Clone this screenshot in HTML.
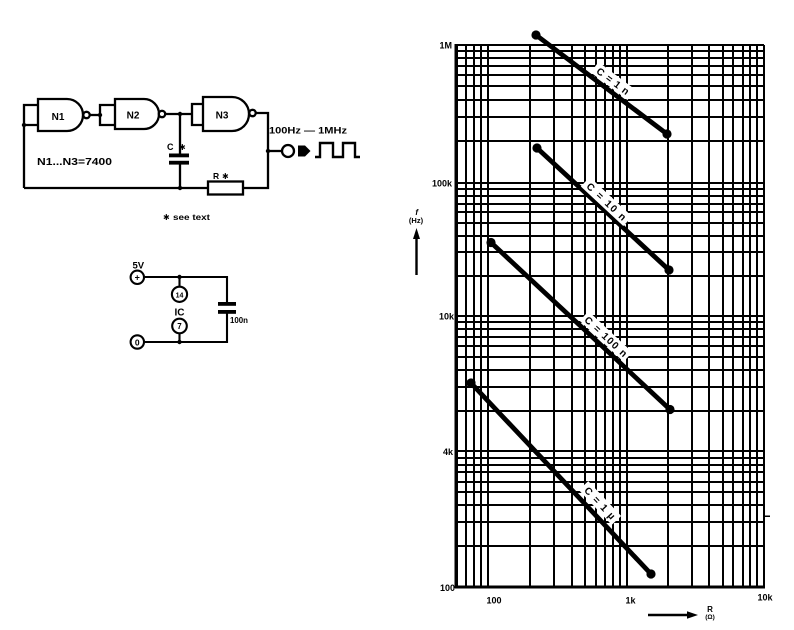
<!DOCTYPE html>
<html>
<head>
<meta charset="utf-8">
<style>
html,body{margin:0;padding:0;background:#fff;}
svg{display:block;}
text{font-family:"Liberation Sans",Arial,sans-serif;font-weight:bold;fill:#000;}
.sym{font-family:"DejaVu Sans","Liberation Sans",sans-serif;}
</style>
</head>
<body>
<svg width="794" height="630" viewBox="0 0 794 630" xmlns="http://www.w3.org/2000/svg">
<rect width="794" height="630" fill="#fff"/>

<!-- ================= CIRCUIT ================= -->
<g fill="none" stroke="#000" stroke-width="2.3" stroke-linejoin="miter">
  <!-- N1 -->
  <path d="M38 99 H67 A16 16 0 0 1 67 131 H38 Z" fill="#fff"/>
  <circle cx="86.5" cy="115" r="3.2" fill="#fff"/>
  <path d="M38 105 H24 V188 M24 125 H38"/>
  <!-- wire N1->N2 -->
  <path d="M89.7 115 H100"/>
  <path d="M115 105 H100 V125 H115"/>
  <!-- N2 -->
  <path d="M115 99 H144 A15 15 0 0 1 144 129 H115 Z" fill="#fff"/>
  <circle cx="162" cy="114" r="3.2" fill="#fff"/>
  <path d="M165.2 114 H192"/>
  <path d="M203 104 H192 V125 H203"/>
  <!-- N3 -->
  <path d="M203 97 H232 A17 17 0 0 1 232 131 H203 Z" fill="#fff"/>
  <circle cx="252.5" cy="113" r="3.2" fill="#fff"/>
  <!-- output / feedback -->
  <path d="M255.7 113 H268 V188 H243"/>
  <rect x="208" y="181.5" width="35" height="13" fill="#fff"/>
  <path d="M208 188 H24"/>
  <!-- capacitor -->
  <path d="M180 114 V154 M180 164 V188"/>
  <path d="M268 151 H282"/>
  <circle cx="288" cy="151" r="6" fill="#fff"/>
  <!-- square wave -->
  <path d="M315 157 H320 V143 H333 V157 H343 V143 H355 V157 H360" stroke-width="2.4"/>
</g>
<rect x="169" y="153.5" width="20" height="3.8" fill="#000"/>
<rect x="169" y="160.8" width="20" height="3.8" fill="#000"/>
<polygon points="298,145.5 305,145.5 310.5,151 305,156.5 298,156.5" fill="#000"/>
<g fill="#000">
  <circle cx="24" cy="125" r="2.2"/>
  <circle cx="100" cy="115" r="2.2"/>
  <circle cx="180" cy="114" r="2.2"/>
  <circle cx="180" cy="188" r="2.2"/>
  <circle cx="268" cy="151" r="2.2"/>
</g>
<text x="58" y="120" font-size="10" text-anchor="middle">N1</text>
<text x="133" y="118.5" font-size="10" text-anchor="middle">N2</text>
<text x="222" y="118.5" font-size="10" text-anchor="middle">N3</text>
<text x="269" y="133.5" font-size="9.5" textLength="78" lengthAdjust="spacingAndGlyphs">100Hz — 1MHz</text>
<text x="167" y="150" font-size="9">C</text>
<text x="179" y="150" font-size="8" class="sym">✱</text>
<text x="213" y="179" font-size="8.5">R</text>
<text x="222" y="179" font-size="8" class="sym">✱</text>
<text x="37" y="165" font-size="10" textLength="75" lengthAdjust="spacingAndGlyphs">N1...N3=7400</text>
<text x="163" y="220" font-size="8" class="sym">✱</text>
<text x="173" y="220" font-size="8.5" textLength="37" lengthAdjust="spacingAndGlyphs">see text</text>

<!-- ================= POWER ================= -->
<g fill="none" stroke="#000" stroke-width="2.1">
  <path d="M144 277 H227 V302.5 M227 313.5 V342 H144"/>
  <circle cx="137.3" cy="277.3" r="6.7" fill="#fff"/>
  <circle cx="137.3" cy="342" r="6.7" fill="#fff"/>
  <path d="M179.5 277 V286.5 M179.5 333.5 V342"/>
  <circle cx="179.5" cy="294.3" r="7.6" fill="#fff"/>
  <circle cx="179.5" cy="326" r="7.3" fill="#fff"/>
</g>
<rect x="218" y="302" width="18" height="3.8" fill="#000"/>
<rect x="218" y="310" width="18" height="3.8" fill="#000"/>
<g fill="#000">
  <circle cx="179.5" cy="277" r="2.2"/>
  <circle cx="179.5" cy="342" r="2.2"/>
</g>
<text x="132.5" y="268.5" font-size="9.5">5V</text>
<text x="137.3" y="280.5" font-size="9" text-anchor="middle">+</text>
<text x="137.3" y="345.3" font-size="8.5" text-anchor="middle">0</text>
<text x="179.5" y="297.3" font-size="7" text-anchor="middle">14</text>
<text x="179.5" y="315.5" font-size="10" text-anchor="middle">IC</text>
<text x="179.5" y="329" font-size="8" text-anchor="middle">7</text>
<text x="230" y="323" font-size="8" textLength="18" lengthAdjust="spacingAndGlyphs">100n</text>

<!-- ================= GRAPH GRID ================= -->
<g fill="none" stroke="#000" stroke-width="2" shape-rendering="crispEdges">
  <path d="M457 45 V587 M466 45 V587 M474 45 V587 M481 45 V587 M488 45 V587
           M530 45 V587 M554 45 V587 M572 45 V587 M585 45 V587 M596 45 V587
           M605 45 V587 M613 45 V587 M620 45 V587 M627 45 V587
           M668 45 V587 M692 45 V587 M709 45 V587 M723 45 V587 M733 45 V587
           M743 45 V587 M750 45 V587 M757 45 V587 M764 45 V587"/>
  <path d="M457 45 H764 M457 51 H764 M457 58 H764 M457 66 H764 M457 75 H764
           M457 86 H764 M457 100 H764 M457 117 H764 M457 141 H764
           M457 183 H764 M457 189 H764 M457 196 H764 M457 204 H764 M457 212 H764
           M457 223 H764 M457 236 H764 M457 252 H764 M457 276 H764
           M457 316 H764 M457 322 H764 M457 329 H764 M457 337 H764 M457 346 H764
           M457 357 H764 M457 370 H764 M457 387 H764 M457 411 H764
           M457 451 H764 M457 458 H764 M457 465 H764 M457 472 H764 M457 482 H764
           M457 492 H764 M457 505 H764 M457 522 H764 M457 546 H764 M457 587 H764"/>
  <path d="M764 516 H770" stroke-width="1.5"/>
</g>
<path d="M456 44 V588" stroke="#000" stroke-width="2.6" shape-rendering="crispEdges"/>
<path d="M455 587 H765" stroke="#000" stroke-width="2.6" shape-rendering="crispEdges"/>

<!-- curves -->
<g stroke="#000" stroke-width="4.8" stroke-linecap="round" fill="none">
  <path d="M536 35 L667 134"/>
  <path d="M537 148 L669 270"/>
  <path d="M491 242.5 L670 409.5"/>
  <path d="M471 383 L651 574"/>
</g>
<g fill="#000">
  <circle cx="536" cy="35" r="4.6"/>
  <circle cx="667" cy="134" r="4.6"/>
  <circle cx="537" cy="148" r="4.6"/>
  <circle cx="669" cy="270" r="4.6"/>
  <circle cx="491" cy="242.5" r="4.6"/>
  <circle cx="670" cy="409.5" r="4.6"/>
  <circle cx="471" cy="383" r="4.6"/>
  <circle cx="651" cy="574" r="4.6"/>
</g>

<!-- curve labels -->
<g transform="translate(613,81) rotate(37)">
  <rect x="-23" y="-6.5" width="46" height="13" fill="#fff"/>
  <text x="0" y="3.6" font-size="10" text-anchor="middle" textLength="38" lengthAdjust="spacing">C = 1 n</text>
</g>
<g transform="translate(606.5,201.5) rotate(43)">
  <rect x="-29" y="-6.5" width="58" height="13" fill="#fff"/>
  <text x="0" y="3.6" font-size="10" text-anchor="middle" textLength="50" lengthAdjust="spacing">C = 10 n</text>
</g>
<g transform="translate(606,336.5) rotate(43)">
  <rect x="-30" y="-6.5" width="60" height="13" fill="#fff"/>
  <text x="0" y="3.6" font-size="10" text-anchor="middle" textLength="54" lengthAdjust="spacing">C = 100 n</text>
</g>
<g transform="translate(600,503) rotate(46.7)">
  <rect x="-24" y="-6.5" width="48" height="13" fill="#fff"/>
  <text x="0" y="3.6" font-size="10" text-anchor="middle" textLength="40" lengthAdjust="spacing">C = 1 µ</text>
</g>

<!-- axis labels -->
<text x="452" y="48.5" font-size="9" text-anchor="end">1M</text>
<text x="452" y="186.5" font-size="9" text-anchor="end">100k</text>
<text x="454" y="319.5" font-size="9" text-anchor="end">10k</text>
<text x="453" y="455" font-size="9" text-anchor="end">4k</text>
<text x="455" y="591" font-size="9" text-anchor="end">100</text>
<text x="494" y="603.5" font-size="9" text-anchor="middle">100</text>
<text x="630.5" y="603.5" font-size="9" text-anchor="middle">1k</text>
<text x="765" y="600.5" font-size="9" text-anchor="middle">10k</text>

<!-- y axis title -->
<text x="416.7" y="215" font-size="8" text-anchor="middle" font-style="italic">f</text>
<text x="416" y="223" font-size="7.5" text-anchor="middle">(Hz)</text>
<path d="M416.5 237 V275" stroke="#000" stroke-width="2.4"/>
<polygon points="416.5,228 413,239 420,239" fill="#000"/>

<!-- x axis title -->
<path d="M648 615 H688" stroke="#000" stroke-width="2.4"/>
<polygon points="698,615 687,611.2 687,618.8" fill="#000"/>
<text x="710" y="612" font-size="8" text-anchor="middle">R</text>
<text x="710" y="619" font-size="6.5" text-anchor="middle">(Ω)</text>
</svg>
</body>
</html>
